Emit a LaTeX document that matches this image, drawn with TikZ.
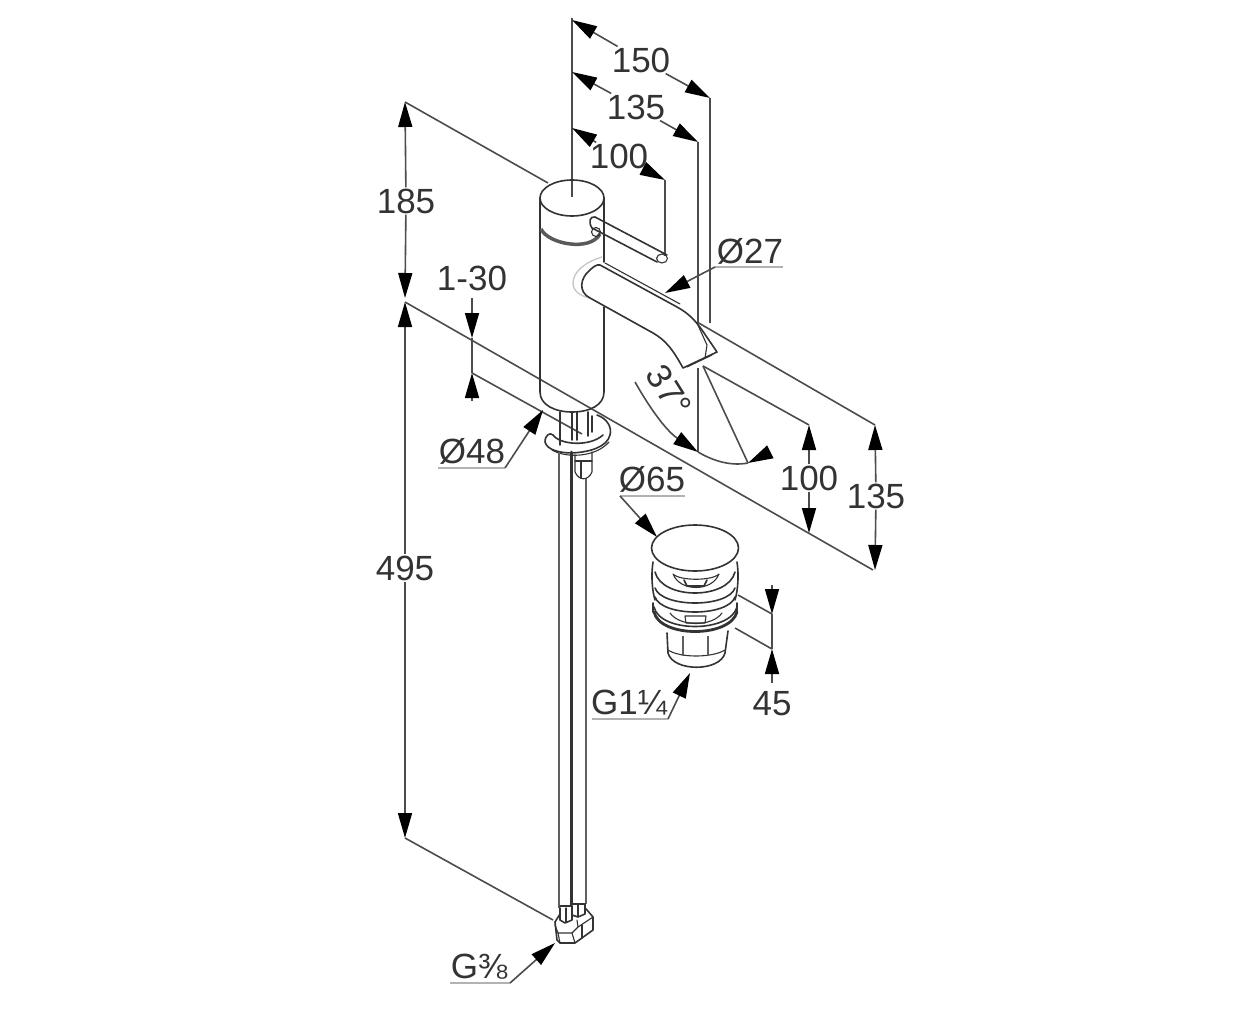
\documentclass[tikz,border=0pt]{standalone}
\usepackage{fontspec}
\setmainfont{Liberation Sans}
\usetikzlibrary{arrows.meta}
\definecolor{ink}{gray}{0.2}
\definecolor{dimln}{gray}{0.3}
\tikzset{
  part/.style={draw=ink,line width=1.6pt,line cap=round,line join=round},
  thin part/.style={draw=ink,line width=1.1pt,line cap=round,line join=round},
  hose/.style={draw=gray!75!black,line width=2.8pt},
  halo/.style={draw=gray!45,line width=1.3pt},
  ringdark/.style={draw=gray!70!black,line width=3.5pt},
  dimline/.style={draw=dimln,line width=1.6pt},
  tipped/.style={dimline,-{Triangle[length=25pt,width=14pt,color=black]}},
  underl/.style={draw=gray!60,line width=1.3pt},
  lab/.style={font=\fontsize{35}{35}\selectfont,text=ink,inner sep=1pt},
}
\begin{document}
\begin{tikzpicture}[x=1pt,y=-1pt]
\useasboundingbox[fill=white] (0,0) rectangle (1252,1024);

% ---- labels
\node[lab] (t150) at (641,60) {150};
\node[lab] (t135a) at (636,107) {135};
\node[lab] (t100a) at (619,156) {100};
\node[lab] (t185) at (406,201) {185};
\node[lab] (t495) at (405,568) {495};
\node[lab] (t130) at (472,278) {1-30};
\node[lab] (t27) at (750,251) {Ø27};
\node[lab] (t48) at (472,451) {Ø48};
\node[lab] (t65) at (652,479) {Ø65};
\node[lab] (t100b) at (809,478) {100};
\node[lab] (t135b) at (876,496) {135};
\node[lab] (t45) at (772,704) {45};
\node[lab] (tg114) at (629,703) {G1¼};
\node[lab] (tg38) at (479,967) {G⅜};
\node[lab,rotate=-58] (t37) at (669,391) {37°};

% ---- coordinates for dimension ends
\coordinate (top0) at (572,18);
\coordinate (axisend) at (572,197);
\coordinate (a150) at (572,20);
\coordinate (b150) at (710,98);
\coordinate (a135) at (572,72);
\coordinate (b135) at (698,142);
\coordinate (a100) at (572,128);
\coordinate (b100) at (665,180);
\coordinate (e150) at (710,323);
\coordinate (e135a) at (698,322);
\coordinate (e135b) at (698,368);
\coordinate (arcA) at (698,452);
\coordinate (e100) at (665,256);
\coordinate (a185) at (405,102);
\coordinate (h185) at (548,183);
\coordinate (b185) at (405,298);
\coordinate (a495) at (405,302);
\coordinate (b495) at (405,838);
\coordinate (h495) at (553,920);
\coordinate (mainEnd) at (873,570);
\coordinate (tip130a) at (472,338);
\coordinate (tail130a) at (472,298);
\coordinate (tip130b) at (472,373);
\coordinate (tail130b) at (472,401);
\coordinate (sec130) at (582,434);
\coordinate (sp1) at (697,322);
\coordinate (sp2) at (875,425);
\coordinate (sp3) at (703,366);
\coordinate (sp4) at (809,425);
\coordinate (m100) at (809,533);
\coordinate (m135) at (875,570);
\coordinate (arcB) at (748,463);
\coordinate (arcT) at (770,452);
\coordinate (arcS) at (635,382);
\coordinate (l27a) at (783,267);
\coordinate (l27b) at (715,267);
\coordinate (p27) at (665,293);
\coordinate (l48a) at (438,468);
\coordinate (l48b) at (505,468);
\coordinate (p48) at (543,410);
\coordinate (l65a) at (685,496);
\coordinate (l65b) at (620,496);
\coordinate (p65) at (657,537);
\coordinate (lg1a) at (592,719);
\coordinate (lg1b) at (668,719);
\coordinate (pg1) at (690,673);
\coordinate (lg3a) at (450,983);
\coordinate (lg3b) at (510,983);
\coordinate (pg3) at (555,943);
\coordinate (d45a) at (738,595);
\coordinate (d45b) at (772,614);
\coordinate (d45c) at (735,628);
\coordinate (d45d) at (772,649);
\coordinate (d45t) at (772,585);
\coordinate (d45u) at (772,683);

% ---- extension and dimension lines
\draw[dimline] (top0) -- (axisend);
\draw[dimline] (b150) -- (e150);
\draw[dimline] (b135) -- (e135a);
\draw[dimline] (e135b) -- (arcA);
\draw[dimline] (b100) -- (e100);
\draw[tipped] (t150) -- (a150);
\draw[tipped] (t150) -- (b150);
\draw[tipped] (t135a) -- (a135);
\draw[tipped] (t135a) -- (b135);
\draw[tipped] (t100a) -- (a100);
\draw[tipped] (t100a) -- (b100);
\draw[dimline] (a185) -- (h185);
\draw[tipped] (t185) -- (a185);
\draw[tipped] (t185) -- (b185);
\draw[tipped] (t495) -- (a495);
\draw[tipped] (t495) -- (b495);
\draw[dimline] (a495) -- (mainEnd);
\draw[dimline] (b495) -- (h495);
\draw[tipped] (tail130a) -- (tip130a);
\draw[tipped] (tail130b) -- (tip130b);
\draw[dimline] (tip130a) -- (tip130b);
\draw[dimline] (tip130b) -- (sec130);
\draw[dimline] (sp1) -- (sp2);
\draw[dimline] (sp3) -- (sp4);
\draw[dimline] (sp3) -- (arcB);
\draw[tipped] (t100b) -- (sp4);
\draw[tipped] (t100b) -- (m100);
\draw[tipped] (t135b) -- (sp2);
\draw[tipped] (t135b) -- (m135);
% angle arc
\draw[tipped] (arcS) .. controls (648,405) and (665,430) .. (arcA);
\draw[dimline] (arcA) .. controls (715,462) and (732,466) .. (arcB);
\draw[tipped] (arcT) -- (arcB);
% leaders
\draw[underl] (l27a) -- (l27b);
\draw[tipped] (l27b) -- (p27);
\draw[underl] (l48a) -- (l48b);
\draw[tipped] (l48b) -- (p48);
\draw[underl] (l65a) -- (l65b);
\draw[tipped] (l65b) -- (p65);
\draw[underl] (lg1a) -- (lg1b);
\draw[tipped] (lg1b) -- (pg1);
\draw[underl] (lg3a) -- (lg3b);
\draw[tipped] (lg3b) -- (pg3);
\draw[dimline] (d45a) -- (d45b);
\draw[dimline] (d45c) -- (d45d);
\draw[dimline] (d45b) -- (d45d);
\draw[tipped] (d45t) -- (d45b);
\draw[tipped] (d45u) -- (d45d);

% ---- tap body
\draw[part] (540,198) -- (540,392) .. controls (540,405) and (555,412) .. (572,412)
  .. controls (590,412) and (604,405) .. (604,392) -- (604,307);
\draw[part] (604,262) -- (604,198);
\draw[part] (572,198) ellipse (32pt and 18pt);
\draw[ringdark] (541,229) .. controls (548,244) and (590,252) .. (600,234);
% lever
\draw[part] (595,217) -- (667,255);
\draw[part] (592,228) -- (657,262);
\draw[part] (592,228) .. controls (588,222) and (590,216) .. (595,217);
\draw[thin part] (662,258.5) ellipse (5.5pt and 4.5pt);
\draw[thin part] (596,232) circle (4.5pt);
% spout
\draw[halo] (602,257) .. controls (585,262) and (573,272) .. (573,283) .. controls (573,291) and (580,296) .. (590,298);
\draw[part] (600,265) -- (677,307) .. controls (688,313) and (695,320) .. (702,330) -- (717,352) -- (683,368)
  .. controls (672,348) and (665,340) .. (653,333) -- (590,298)
  .. controls (578,292) and (580,278) .. (590,270) .. controls (593,267) and (597,264) .. (600,265);
\draw[thin part] (605,263) -- (680,304);
\draw[thin part] (697,323) -- (707,345) -- (705,358);
\draw[thin part] (687,367) -- (712,355);
% underside
\draw[part] (560,412) -- (560,445);
\draw[part] (572,412) -- (572,440);
\draw[part] (577,412) -- (577,440);
\draw[part] (588,412) -- (588,436);
\draw[part] (592,416) -- (592,432);
\draw[part] (597,415) .. controls (608,419) and (612,428) .. (610,435)
  .. controls (607,447) and (590,452) .. (572,453) .. controls (560,453) and (547,450) .. (545,442)
  .. controls (545,435) and (550,432) .. (553,435) .. controls (560,445) and (590,447) .. (603,435);
\draw[thin part] (552,450) .. controls (565,458) and (595,458) .. (609,442);
% hoses
\draw[hose] (559,452) -- (559,908);
\draw[part,line width=2.6pt] (571.5,452) -- (571.5,905);
\draw[hose,line width=2.4pt] (586,478) -- (586,904);
% nut under plate
\draw[thin part] (575,455) -- (575,472) .. controls (579,481) and (588,481) .. (592,472) -- (592,452);
\draw[thin part] (575,461) -- (592,461);
\draw[thin part] (581,461) -- (581,478);
% bottom block
\draw[part] (555,922) -- (557,940) -- (560,943) -- (575,943) -- (593,930) -- (593,917) -- (587,910) -- (585,908);
\draw[part] (555,922) -- (560,914);
\draw[thin part] (555,925) -- (558,933) -- (572,933) -- (578,927) -- (577,920);
\draw[thin part] (558,933) -- (560,943);
\draw[thin part] (572,933) -- (575,943);
\draw[thin part] (578,927) -- (593,917);
\draw[thin part] (582,925) -- (582,938);
\draw[part] (560,908) -- (560,920) -- (565,923) -- (572,920) -- (572,906) -- (560,906);
\draw[part] (572,904) -- (585,904) -- (585,914) -- (578,917) -- (572,915);
\draw[thin part] (566,908) -- (566,922);
\draw[thin part] (578,905) -- (578,916);

% ---- drain
\draw[part] (695,548) ellipse (43.5pt and 23pt);
\draw[part] (653,562) .. controls (651,575) and (652,590) .. (655,600);
\draw[part] (737,562) .. controls (739,575) and (738,590) .. (735,600);
\draw[part] (655,572) .. controls (662,600) and (728,600) .. (735,572);
\draw[part] (655,588) .. controls (662,608) and (728,608) .. (735,588);
\draw[part] (655,597) .. controls (662,617) and (728,617) .. (735,597);
\draw[part] (653,603) -- (653,612);
\draw[part] (737,603) -- (737,612);
\draw[part] (654,607) .. controls (660,633) and (730,633) .. (737,607);
\draw[part,line width=2.8pt] (654,612) .. controls (660,638) and (730,638) .. (737,612);
% slots
\draw[thin part] (673,574) .. controls (680,592) and (712,592) .. (719,574) .. controls (712,581) and (680,581) .. (673,574);
\draw[part] (684,580) -- (687,586) -- (704,586) -- (707,580);
\draw[thin part] (670,613) .. controls (680,627) and (712,627) .. (722,613);
\draw[thin part] (685,616) -- (686,623) -- (705,623) -- (706,616) -- cycle;
% nut
\draw[part] (667,633) -- (668,653) .. controls (673,672) and (720,672) .. (725,653) -- (728,631);
\draw[thin part] (668,650) .. controls (680,658) and (712,658) .. (725,650);
\draw[hose,line width=2.2pt] (683,636) -- (683,656);
\draw[hose,line width=2.2pt] (708,636) -- (708,656);
\end{tikzpicture}
\end{document}
